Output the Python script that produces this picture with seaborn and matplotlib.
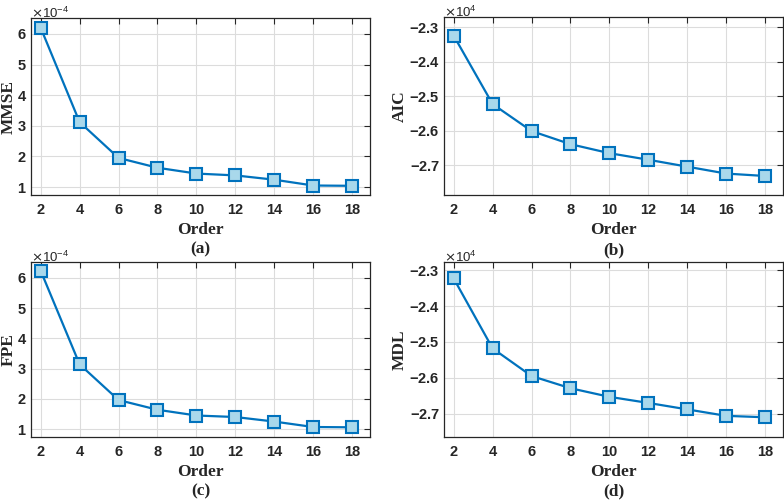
import numpy as np
import matplotlib
matplotlib.use("Agg")
import matplotlib.pyplot as plt
import seaborn as sns

sns.set_style("whitegrid")
plt.rcParams["font.family"] = ["Liberation Sans", "DejaVu Sans"]
plt.rcParams["axes.unicode_minus"] = False

# model orders and the four criteria
orders = [2, 4, 6, 8, 10, 12, 14, 16, 18]
mmse = [6.20e-4, 3.12e-4, 1.95e-4, 1.63e-4, 1.44e-4, 1.38e-4, 1.24e-4, 1.05e-4, 1.04e-4]
aic = [-23250, -25230, -26010, -26390, -26650, -26840, -27040, -27240, -27310]
fpe = [6.23e-4, 3.14e-4, 1.96e-4, 1.64e-4, 1.45e-4, 1.40e-4, 1.25e-4, 1.07e-4, 1.06e-4]
mdl = [-23230, -25180, -25950, -26290, -26530, -26700, -26880, -27060, -27100]

panels = [
    # name, values, ylim, yticks, label x, tag, axes rect
    ("MMSE", mmse, (0.74e-4, 6.52e-4), np.arange(1, 7) * 1e-4, -0.043, "(a)",
     [0.0395, 0.61, 0.4324, 0.354]),
    ("AIC", aic, (-27860, -22710), np.arange(-27000, -22999, 1000), -0.108, "(b)",
     [0.5663, 0.61, 0.4324, 0.356]),
    ("FPE", fpe, (0.74e-4, 6.52e-4), np.arange(1, 7) * 1e-4, -0.043, "(c)",
     [0.0395, 0.126, 0.4324, 0.35]),
    ("MDL", mdl, (-27650, -22770), np.arange(-27000, -22999, 1000), -0.108, "(d)",
     [0.5663, 0.126, 0.4324, 0.35]),
]

blue = "#0072BD"
face = "#A9D8EB"
serif = ["Liberation Serif", "DejaVu Serif"]

fig = plt.figure(figsize=(7.84, 5), dpi=100)

for name, vals, ylim, yticks, lx, tag, rect in panels:
    ax = fig.add_axes(rect)
    sns.lineplot(x=orders, y=vals, ax=ax, color=blue, linewidth=1.6,
                 marker="s", markersize=8.5, markerfacecolor=face,
                 markeredgecolor=blue, markeredgewidth=1.5)
    ax.set_xlim(1.5, 18.92)
    ax.set_ylim(*ylim)
    ax.set_xticks(orders)
    ax.set_yticks(yticks)
    ax.ticklabel_format(axis="y", style="sci", scilimits=(0, 0),
                        useMathText=True, useOffset=False)
    ax.yaxis.get_offset_text().set_fontsize(9.5)
    ax.yaxis.OFFSETTEXTPAD = 0
    ax.grid(True, color="#dcdcdc", linewidth=0.8)
    for s in ax.spines.values():
        s.set_color("#262626")
        s.set_linewidth(0.9)
    ax.tick_params(direction="in", top=True, right=True, length=4,
                   width=0.8, color="#262626", labelsize=10.5,
                   labelcolor="#262626")
    ax.tick_params(axis="x", pad=6)
    ax.tick_params(axis="y", pad=3)
    for t in ax.get_xticklabels() + ax.get_yticklabels():
        t.set_fontweight("bold")
    ax.set_xlabel("Order", fontsize=12.5, fontweight="bold", family=serif,
                  color="#262626", labelpad=3)
    ax.set_ylabel(name, fontsize=12.5, fontweight="bold", family=serif,
                  color="#262626")
    ax.yaxis.set_label_coords(lx, 0.5)
    ax.text(0.5, -0.31, tag, transform=ax.transAxes, ha="center", va="center",
            fontsize=12.5, fontweight="bold", family=serif, color="#262626")

fig.savefig("out.png", dpi=100)
